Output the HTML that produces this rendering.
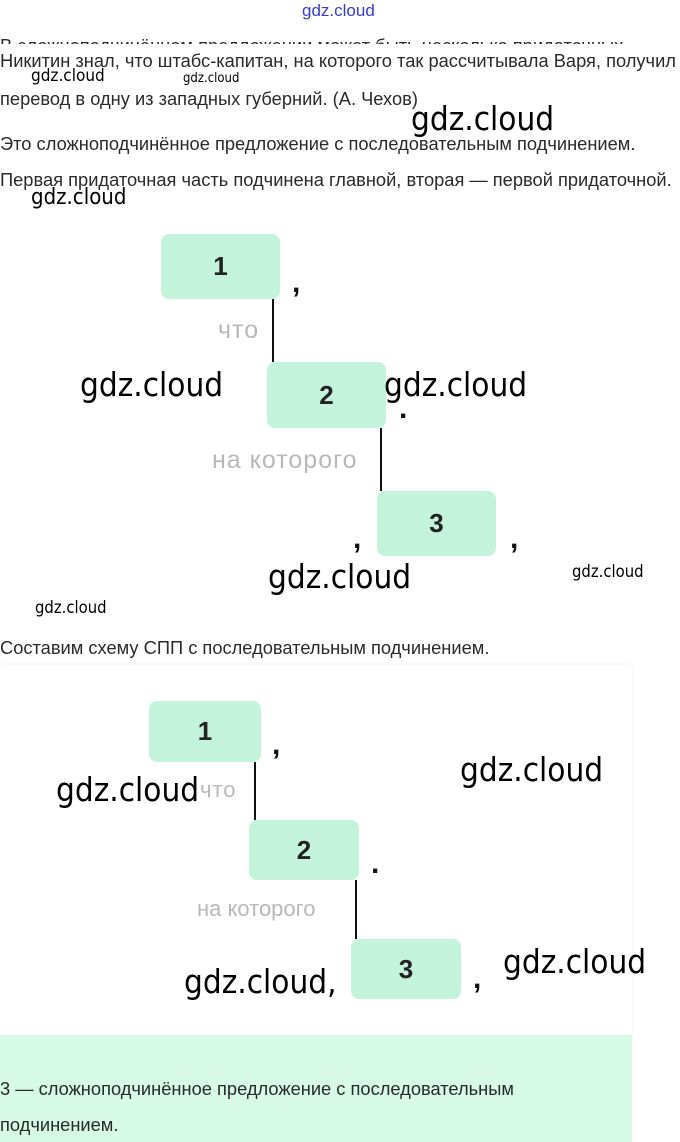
<!DOCTYPE html>
<html><head><meta charset="utf-8"><style>
body{margin:0;width:680px;height:1142px;position:relative;background:#fff;font-family:"Liberation Sans",sans-serif;color:#2a2a2a;overflow:hidden}
.a{position:absolute;white-space:nowrap}
.t{font-size:18.3px}
.w{font-family:"DejaVu Sans Condensed","Liberation Sans",sans-serif;color:#000;position:absolute;white-space:nowrap}
.b{position:absolute;background:#c3f3da;border-radius:8px;font-size:26px;font-weight:bold;display:flex;align-items:center;justify-content:center;color:#222}
.v{position:absolute;width:2px;background:#111}
.g{position:absolute;color:#b8b8b8;font-size:25px;letter-spacing:1px;white-space:nowrap}
.p{position:absolute;font-size:30px;font-weight:bold;color:#111}
</style></head><body>
<div class="a" style="left:302px;top:1px;font-size:17px;color:#3a3ad0">gdz.cloud</div>
<div class="a t" style="left:0;top:32px;height:12px;overflow:hidden;line-height:28px">В сложноподчинённом предложении может быть несколько придаточных</div>
<div class="a t" style="left:0;top:50px">Никитин знал, что штабс-капитан, на которого так рассчитывала Варя, получил</div>
<div class="w" style="left:31px;top:66px;font-size:17px">gdz.cloud</div>
<div class="w" style="left:183px;top:71px;font-size:13px">gdz.cloud</div>
<div class="a t" style="left:0;top:88px">перевод в одну из западных губерний. (А. Чехов)</div>
<div class="w" style="left:411px;top:99px;font-size:33px">gdz.cloud</div>
<div class="a t" style="left:0;top:133px">Это сложноподчинённое предложение с последовательным подчинением.</div>
<div class="a t" style="left:0;top:169px">Первая придаточная часть подчинена главной, вторая — первой придаточной.</div>
<div class="w" style="left:31px;top:185px;font-size:22px">gdz.cloud</div>

<div class="b" style="left:161px;top:234px;width:119px;height:65px">1</div>
<div class="v" style="left:272px;top:299px;height:63px"></div>
<div class="p" style="left:292px;top:266px">,</div>
<div class="g" style="left:218px;top:316px">что</div>
<div class="b" style="left:267px;top:362px;width:119px;height:66px">2</div>
<div class="p" style="left:399px;top:392px">.</div>
<div class="v" style="left:380px;top:428px;height:63px"></div>
<div class="g" style="left:212px;top:446px">на которого</div>
<div class="b" style="left:377px;top:491px;width:119px;height:65px">3</div>
<div class="p" style="left:353px;top:522px">,</div>
<div class="p" style="left:510px;top:522px">,</div>
<div class="w" style="left:80px;top:365px;font-size:33px">gdz.cloud</div>
<div class="w" style="left:384px;top:365px;font-size:33px">gdz.cloud</div>
<div class="w" style="left:268px;top:557px;font-size:33px">gdz.cloud</div>
<div class="w" style="left:572px;top:562px;font-size:16.5px">gdz.cloud</div>
<div class="w" style="left:35px;top:598px;font-size:16.5px">gdz.cloud</div>
<div class="a t" style="left:0;top:637px">Составим схему СПП с последовательным подчинением.</div>

<div style="position:absolute;left:0;top:665px;width:632px;height:370px;background:#fff;box-shadow:0 0 4px #e4f4ec"></div>
<div style="position:absolute;left:0;top:1035px;width:632px;height:107px;background:#d6fae6"></div>
<div class="b" style="left:149px;top:701px;width:112px;height:61px">1</div>
<div class="p" style="left:272px;top:728px">,</div>
<div class="v" style="left:254px;top:762px;height:58px"></div>
<div class="g" style="left:200px;top:777px;font-size:22px">что</div>
<div class="b" style="left:249px;top:820px;width:110px;height:60px">2</div>
<div class="p" style="left:371px;top:847px">.</div>
<div class="v" style="left:355px;top:880px;height:59px"></div>
<div class="g" style="left:197px;top:896px;font-size:22px;letter-spacing:0">на которого</div>
<div class="b" style="left:351px;top:939px;width:110px;height:60px">3</div>
<div class="p" style="left:473px;top:962px">,</div>
<div class="w" style="left:56px;top:770px;font-size:33px;background:#fff">gdz.cloud</div>
<div class="w" style="left:460px;top:750px;font-size:33px">gdz.cloud</div>
<div class="w" style="left:184px;top:962px;font-size:33px">gdz.cloud,</div>
<div class="w" style="left:503px;top:942px;font-size:33px">gdz.cloud</div>
<div class="a t" style="left:0;top:1078px">3 — сложноподчинённое предложение с последовательным</div>
<div class="a t" style="left:0;top:1114px">подчинением.</div>
</body></html>
